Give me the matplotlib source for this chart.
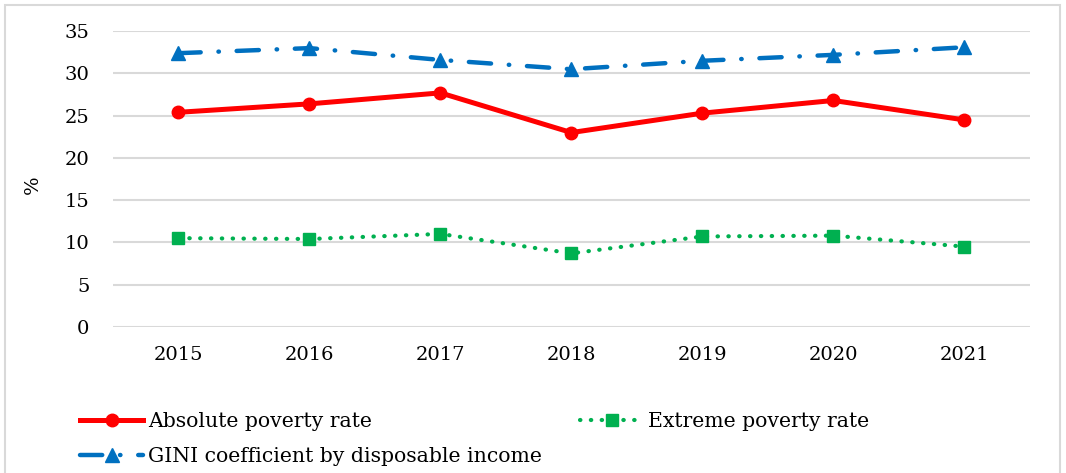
import matplotlib.pyplot as plt
from matplotlib.patches import Rectangle

years = ['2015', '2016', '2017', '2018', '2019', '2020', '2021']
absolute_poverty = [25.4, 26.4, 27.7, 23.0, 25.3, 26.8, 24.5]
extreme_poverty = [10.5, 10.4, 11.0, 8.7, 10.7, 10.8, 9.5]
gini = [32.4, 33.0, 31.6, 30.5, 31.5, 32.2, 33.1]

plt.rcParams['font.family'] = ['DejaVu Serif']

fig = plt.figure(figsize=(10.66, 4.73), dpi=100)
ax = fig.add_axes([0.106, 0.309, 0.860, 0.625])

x = range(len(years))
ax.plot(x, absolute_poverty, color='#FF0000', lw=3.6, marker='o', ms=9,
        label='Absolute poverty rate', zorder=3)
ax.plot(x, gini, color='#0070C0', lw=3.2, marker='^', ms=10,
        linestyle=(0, (5, 4, 0.1, 4)), dash_capstyle='round',
        label='GINI coefficient by disposable income', zorder=3)
ax.plot(x, extreme_poverty, color='#00B050', lw=3.0, marker='s', ms=8,
        linestyle=(0, (0.1, 2.5)), dash_capstyle='round',
        label='Extreme poverty rate', zorder=3)

ax.set_xlim(-0.5, len(years) - 0.5)
ax.set_ylim(0, 35)
ax.set_yticks(range(0, 36, 5))
ax.set_xticks(list(x))
ax.set_xticklabels(years)
ax.tick_params(length=0, labelsize=14, pad=14)
ax.tick_params(axis='y', pad=17)
ax.grid(axis='y', color='#d9d9d9', lw=1.5)
ax.set_axisbelow(True)
for s in ax.spines.values():
    s.set_visible(False)
ax.set_ylabel('%', fontsize=14)
ax.yaxis.set_label_coords(-0.078, 0.48)

fig.legend(loc='upper left', bbox_to_anchor=(0.075, 0.128), ncol=2,
           frameon=False, fontsize=14.7, handlelength=3.1, handletextpad=0.25,
           columnspacing=1.85, labelspacing=0.75, borderaxespad=0, borderpad=0)

fig.patches.append(Rectangle((5 / 1066, -0.05), 1055 / 1066, 1.05 - 5 / 473,
                             transform=fig.transFigure, fill=False,
                             edgecolor='#d9d9d9', lw=1.5))

fig.savefig('out.png', dpi=100)
